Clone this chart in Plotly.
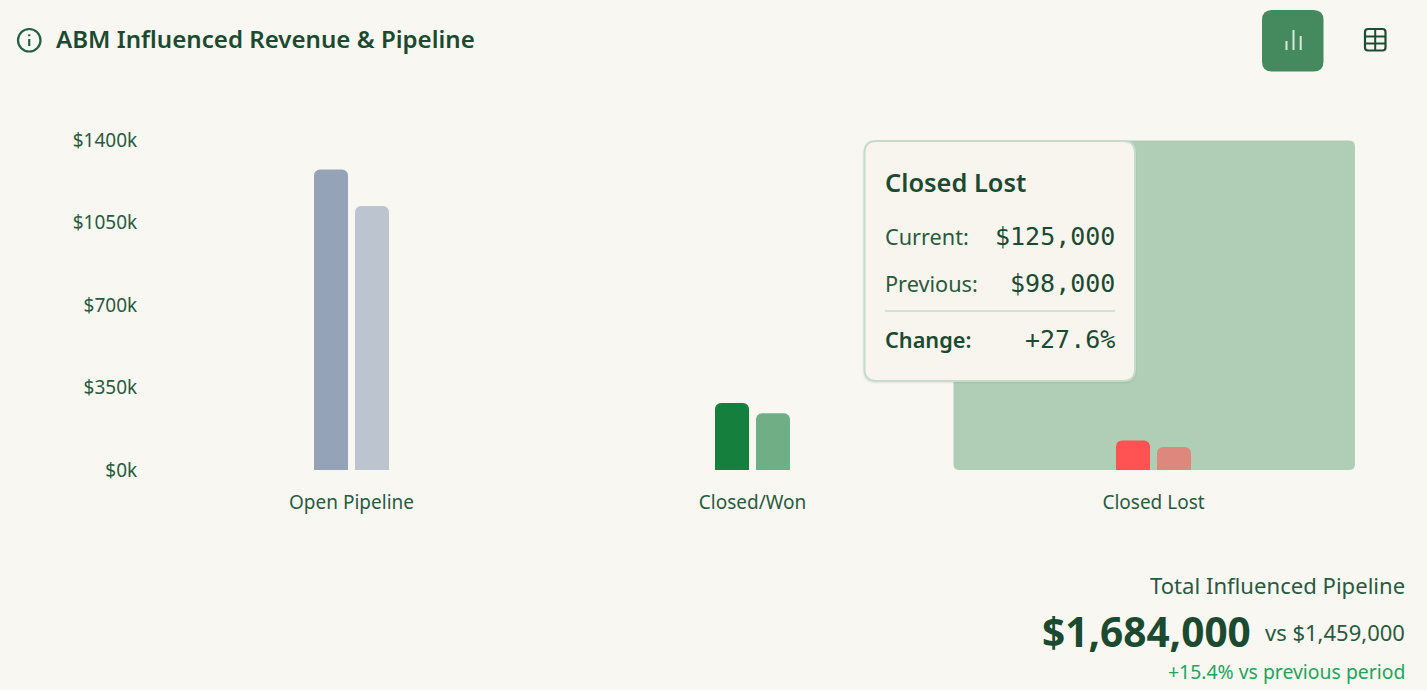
import plotly.graph_objects as go

categories = ["Open Pipeline", "Closed/Won", "Closed Lost"]
current_values = [1275000, 284000, 125000]
previous_values = [1120000, 241000, 98000]
current_colors = ["#94a3b8", "#15803d", "#ff5252"]
previous_colors = ["#bcc4cf", "#70ae85", "#de877d"]
y_ticks = [0, 350000, 700000, 1050000, 1400000]
y_tick_labels = ["$0k", "$350k", "$700k", "$1050k", "$1400k"]

W, H = 1427, 690
L, R, T, B = 151, 1354, 140, 470
DARK = "#1c4a30"
MID = "#2a5a3e"
SANS = "Noto Sans"
MONO = "DejaVu Sans Mono"

def px(x):
    return (x - L) / (R - L)

def py(y):
    return (B - y) / (B - T)

def rr(x0, y0, x1, y1, r):
    pts = [
        f"M {px(x0 + r)} {py(y0)}", f"L {px(x1 - r)} {py(y0)}",
        f"Q {px(x1)} {py(y0)} {px(x1)} {py(y0 + r)}", f"L {px(x1)} {py(y1 - r)}",
        f"Q {px(x1)} {py(y1)} {px(x1 - r)} {py(y1)}", f"L {px(x0 + r)} {py(y1)}",
        f"Q {px(x0)} {py(y1)} {px(x0)} {py(y1 - r)}", f"L {px(x0)} {py(y0 + r)}",
        f"Q {px(x0)} {py(y0)} {px(x0 + r)} {py(y0)} Z",
    ]
    return " ".join(pts)

def path_shape(path, fill="rgba(0,0,0,0)", line=None, width=0, layer="above"):
    return dict(type="path", xref="paper", yref="paper", path=path, fillcolor=fill,
                line=dict(color=line or "rgba(0,0,0,0)", width=width), layer=layer)

def seg(x0, y0, x1, y1, color, width=2):
    return dict(type="line", xref="paper", yref="paper", x0=px(x0), y0=py(y0), x1=px(x1), y1=py(y1),
                line=dict(color=color, width=width), layer="above")

def label(text, x, y, size, color=DARK, anchor="left", family=SANS, weight=400):
    return dict(text=text, x=px(x), y=py(y), xref="paper", yref="paper", xanchor=anchor, yanchor="middle",
                showarrow=False, borderpad=0, borderwidth=0,
                font=dict(family=family, size=size, color=color, weight=weight))

shapes = [
    path_shape(rr(953.5, 140.5, 1355, 470, 6), fill="#b0cdb5", layer="below"),
    # tooltip shadow and box
    path_shape(rr(862, 141, 1137, 384, 14), fill="rgba(30,70,45,0.03)"),
    path_shape(rr(863, 141, 1136, 383, 13), fill="rgba(30,70,45,0.04)"),
    path_shape(rr(864.5, 141, 1135, 381, 12), fill="#f8f5ef", line="#c6dccb", width=2),
    seg(885, 311, 1115, 311, "#c6dccb", 1.5),
    # info icon
    dict(type="circle", xref="paper", yref="paper", x0=px(18), x1=px(40.5), y0=py(51.5), y1=py(29),
         fillcolor="rgba(0,0,0,0)", line=dict(color="#22603f", width=2.2), layer="above"),
    seg(29.2, 39, 29.2, 46, "#22603f", 2.2),
    seg(29.2, 34.3, 29.2, 36.2, "#22603f", 2.2),
    # active chart button
    path_shape(rr(1262, 10, 1323.5, 71.5, 10), fill="#458a5f"),
    seg(1286.5, 41, 1286.5, 50, "#d9e8dc", 2),
    seg(1293.5, 30, 1293.5, 50, "#d9e8dc", 2),
    seg(1300.7, 36, 1300.7, 50, "#d9e8dc", 2),
    # table button
    path_shape(rr(1365, 29, 1385.5, 50.5, 3), line="#1f4d33", width=2.2),
    seg(1365, 36.5, 1385.5, 36.5, "#1f4d33", 2),
    seg(1365, 43.5, 1385.5, 43.5, "#1f4d33", 2),
    seg(1375.2, 29, 1375.2, 50.5, "#1f4d33", 2),
]

annotations = [
    label("Closed Lost", 885, 182, 25.4, DARK, weight=600),
    label("Current:", 885, 236, 21.7, MID),
    label("$125,000", 1115, 236.5, 25, DARK, "right", MONO),
    label("Previous:", 885, 283, 21.7, MID),
    label("$98,000", 1115, 283.5, 25, DARK, "right", MONO),
    label("Change:", 885, 339, 21.7, DARK, weight=600),
    label("+27.6%", 1115, 339.5, 25, DARK, "right", MONO),
    label("Total Influenced Pipeline", 1405, 584.5, 22.1, MID, "right"),
    label("$1,684,000", 1251, 631.5, 40.6, DARK, "right", weight=700),
    label("vs $1,459,000", 1405, 631.5, 22, MID, "right"),
    label("+15.4% vs previous period", 1405, 671.5, 19.4, "#22a45a", "right"),
]

fig = go.Figure()
fig.add_bar(name="Current", x=categories, y=current_values, marker=dict(color=current_colors, line_width=0),
            hoverinfo="skip")
fig.add_bar(name="Previous", x=categories, y=previous_values, marker=dict(color=previous_colors, line_width=0),
            hoverinfo="skip")

fig.update_layout(
    width=W, height=H,
    margin=dict(l=L, r=W - R, t=T, b=H - B, pad=0),
    paper_bgcolor="#f9f7f2", plot_bgcolor="rgba(0,0,0,0)",
    barmode="group", bargap=1 - 82 / 401, bargroupgap=7 / 41, barcornerradius=6,
    showlegend=False,
    title=dict(text="ABM Influenced Revenue &amp; Pipeline", x=56 / W, xref="container", xanchor="left",
               y=1 - 40 / H, yref="container", yanchor="middle",
               font=dict(family=SANS, size=24.1, color=DARK, weight=600)),
    xaxis=dict(type="category", showgrid=False, zeroline=False, showline=False, ticks="outside", ticklen=15,
               tickcolor="rgba(0,0,0,0)", tickfont=dict(family=SANS, size=19, color=MID), fixedrange=True),
    yaxis=dict(range=[0, 1400000], tickvals=y_ticks, ticktext=y_tick_labels, showgrid=False, zeroline=False,
               showline=False, ticks="outside", ticklen=9, tickcolor="rgba(0,0,0,0)",
               tickfont=dict(family=SANS, size=19, color=MID), fixedrange=True),
    shapes=shapes, annotations=annotations,
)

fig.write_html("out.html", config=dict(displayModeBar=False),
               post_script="document.body.style.margin='0';document.documentElement.style.background='#f9f7f2';")
